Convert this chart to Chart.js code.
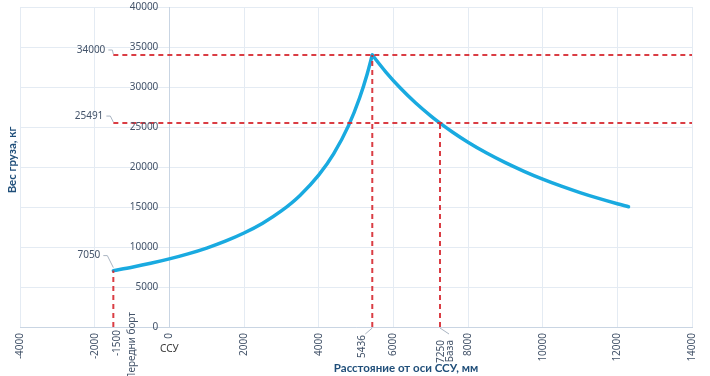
<!DOCTYPE html>
<html>
<head>
<meta charset="utf-8">
<script src="https://cdn.jsdelivr.net/npm/chart.js@4/dist/chart.umd.min.js"></script>
<style>
  html, body { margin: 0; padding: 0; background: #fff; }
  #wrap { width: 710px; height: 376px; position: relative; }
</style>
</head>
<body>
<div id="wrap"><canvas id="c"></canvas></div>
<script>
// Данные кривой (расстояние, мм -> вес, кг)
const xRise = [-1500, -1000, -500, 0, 500, 1000, 1500, 2000, 2500, 3000, 3500, 4000, 4400, 4800, 5100, 5300, 5436];
const wRise = [7050, 7480, 7960, 8510, 9140, 9870, 10730, 11750, 12980, 14510, 16450, 18980, 21640, 25170, 28690, 31630, 34000];
const xFall = [5436, 5800, 6200, 6600, 7000, 7250, 7600, 8000, 8500, 9000, 9500, 10000, 10500, 11000, 11500, 12000, 12300];
const wFall = [34000, 31870, 29810, 28000, 26400, 25491, 24320, 23100, 21740, 20540, 19460, 18480, 17600, 16800, 16070, 15400, 15030];

// Характерные точки
const keyX = [-1500, 5436, 7250];
const keyW = [7050, 34000, 25491];
const keyNames = ['Передни борт', '', 'База'];

// Оси
const xMin = -4000, xMax = 14000, xStep = 2000;
const yMin = 0, yMax = 40000, yStep = 5000;

const tickColor = '#44546a';
const gridColor = '#e4ebf3';
const red = 'rgba(214,40,48,0.9)';

function toPts(xs, ys) {
    return xs.map((v, i) => ({ x: v, y: ys[i] }));
}

// Пунктирные линии
const guides = [];
keyX.forEach((kx, i) => {
    guides.push({ data: [{ x: kx, y: 0 }, { x: kx, y: keyW[i] }] });
});
// горизонтальные линии для 34000 и 25491
[1, 2].forEach(i => {
    guides.push({ data: [{ x: keyX[0], y: keyW[i] }, { x: xMax, y: keyW[i] }] });
});

const guideSets = guides.map(g => ({
    data: g.data,
    borderColor: red,
    borderWidth: 2,
    borderDash: [5, 4],
    pointRadius: 0,
    fill: false,
    tension: 0
}));

const curveStyle = {
    borderColor: '#19aae0',
    borderWidth: 3.5,
    pointRadius: 0,
    fill: false,
    cubicInterpolationMode: 'monotone',
    borderCapStyle: 'round',
    borderJoinStyle: 'round'
};

const annotPlugin = {
    id: 'annot',
    afterDatasetsDraw(chart) {
        const { ctx, scales: { x, y } } = chart;
        const font = '10px "Noto Sans"';
        ctx.save();

        // подписи оси Y (левее оси ССУ)
        const x0 = x.getPixelForValue(0);
        ctx.fillStyle = tickColor;
        ctx.font = font;
        ctx.textAlign = 'right';
        ctx.textBaseline = 'middle';
        y.ticks.forEach(t => {
            ctx.fillText(String(t.value), x0 - 11, y.getPixelForValue(t.value));
        });

        // подписи значений слева
        const leftOff = [[-12, -13], [-7, -5], [-9, -7]];
        keyW.forEach((w, i) => {
            const ax = x.getPixelForValue(keyX[0]);
            const ay = y.getPixelForValue(w) + (i === 0 ? -2 : 0);
            const lx = ax + leftOff[i][0];
            const ly = ay + leftOff[i][1];
            ctx.strokeStyle = '#a9b4c2';
            ctx.lineWidth = 1;
            ctx.beginPath();
            ctx.moveTo(lx + 2, ly);
            ctx.lineTo(lx + 6, ly);
            ctx.lineTo(ax, ay - 1);
            ctx.stroke();
            ctx.fillStyle = tickColor;
            ctx.font = font;
            ctx.textAlign = 'right';
            ctx.textBaseline = 'middle';
            ctx.fillText(String(w), lx - 1, ly);
        });

        // подписи внизу (повернутые)
        const base = y.getPixelForValue(0);
        function vtext(txt, cx, top, color) {
            ctx.save();
            ctx.translate(cx, top);
            ctx.rotate(-Math.PI / 2);
            ctx.fillStyle = color || tickColor;
            ctx.font = font;
            ctx.textAlign = 'right';
            ctx.textBaseline = 'middle';
            ctx.fillText(txt, 0, 0);
            ctx.restore();
        }
        const p0 = x.getPixelForValue(keyX[0]);
        const p1 = x.getPixelForValue(keyX[1]);
        const p2 = x.getPixelForValue(keyX[2]);

        vtext(String(keyX[0]), p0 + 4, base + 3);
        vtext(keyNames[0], p0 + 19, base - 15);
        vtext(String(keyX[1]), p1 - 10, base + 8);
        vtext(String(keyX[2]), p2 + 1, base + 13);
        vtext(keyNames[2], p2 + 10, base + 13);

        ctx.strokeStyle = '#a9b4c2';
        ctx.lineWidth = 1;
        ctx.beginPath();
        ctx.moveTo(p1, base + 1);
        ctx.lineTo(p1 - 7, base + 7);
        ctx.moveTo(p2, base + 1);
        ctx.lineTo(p2 + 9, base + 7);
        ctx.stroke();

        // ССУ под нулём
        ctx.fillStyle = '#3b3b3b';
        ctx.font = font;
        ctx.textAlign = 'center';
        ctx.textBaseline = 'middle';
        ctx.fillText('ССУ', x0, base + 22);

        // названия осей
        ctx.fillStyle = '#1f4e79';
        ctx.font = 'bold 11.5px Lato';
        ctx.fillText('Расстояние от оси ССУ, мм', 406, 368);
        ctx.save();
        ctx.translate(12, 160);
        ctx.rotate(-Math.PI / 2);
        ctx.font = 'bold 11.5px Lato';
        ctx.fillText('Вес груза, кг', 0, 0);
        ctx.restore();

        ctx.restore();
    }
};

new Chart(document.getElementById('c'), {
    type: 'line',
    data: {
        datasets: [
            ...guideSets,
            Object.assign({ data: toPts(xRise, wRise) }, curveStyle),
            Object.assign({ data: toPts(xFall, wFall) }, curveStyle)
        ]
    },
    options: {
        responsive: true,
        maintainAspectRatio: false,
        animation: false,
        parsing: false,
        layout: { padding: { left: 20, right: 15, top: 7, bottom: 0 } },
        plugins: {
            legend: { display: false },
            tooltip: { enabled: false }
        },
        scales: {
            x: {
                type: 'linear',
                min: xMin,
                max: xMax,
                afterFit: s => { s.height = 49; },
                grid: { color: gridColor, drawTicks: false },
                border: { color: '#c9d5e3' },
                ticks: {
                    stepSize: xStep,
                    autoSkip: false,
                    minRotation: 90,
                    maxRotation: 90,
                    padding: 6,
                    color: tickColor,
                    font: { family: 'Noto Sans', size: 10 },
                    callback: v => String(v)
                }
            },
            y: {
                type: 'linear',
                position: { x: 0 },
                min: yMin,
                max: yMax,
                grid: { color: gridColor, drawTicks: false },
                border: { color: '#c9d5e3' },
                // подписи рисуются в плагине
                ticks: { stepSize: yStep, display: false }
            }
        }
    },
    plugins: [annotPlugin]
});
</script>
</body>
</html>
